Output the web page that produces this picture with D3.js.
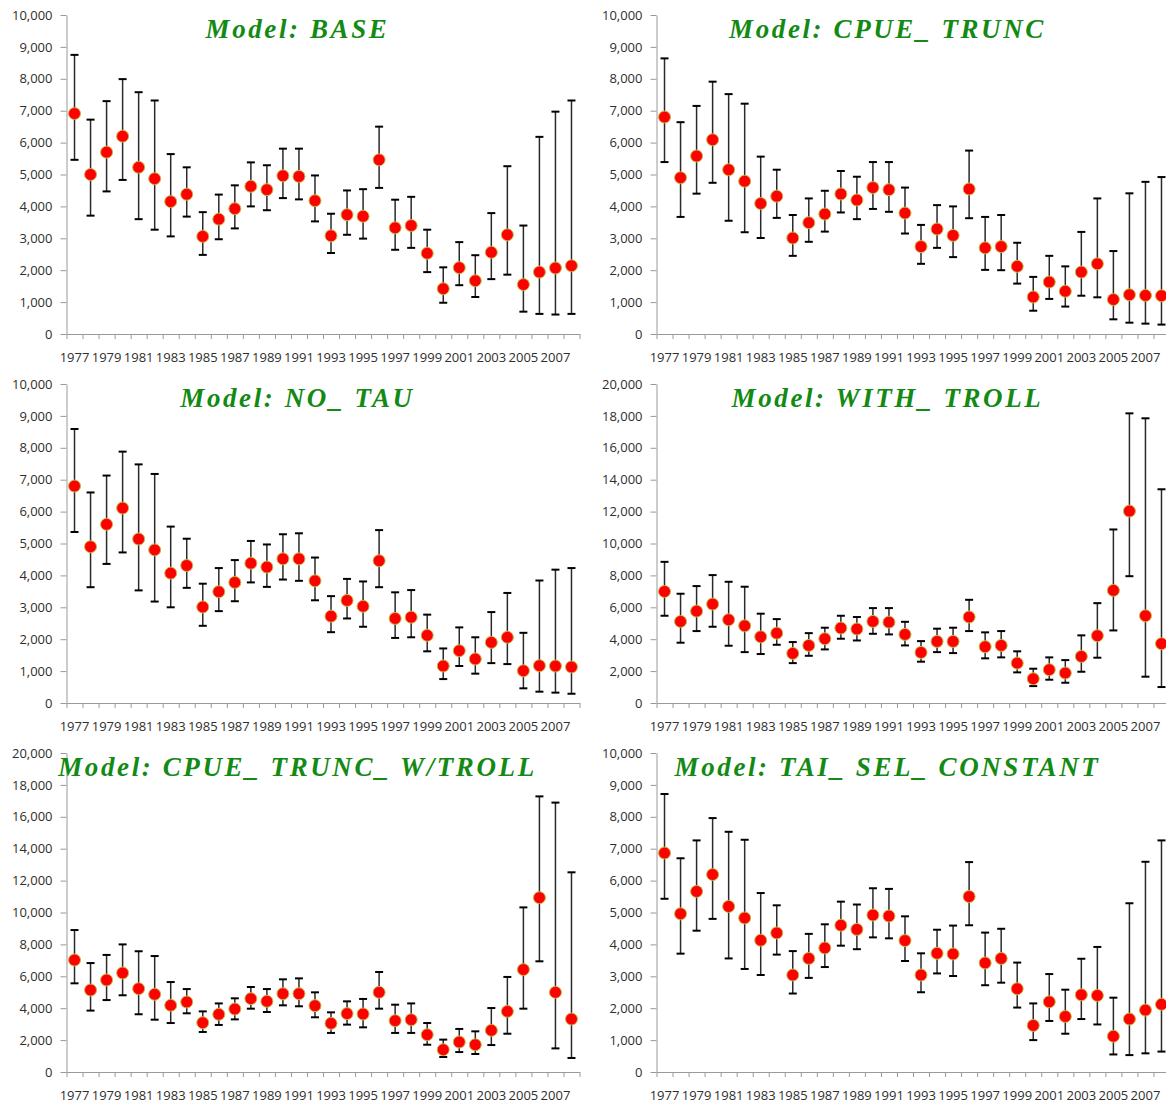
<!DOCTYPE html>
<html><head><meta charset="utf-8">
<script src="https://cdn.jsdelivr.net/npm/d3@7"></script>
<style>
html,body{margin:0;padding:0;background:#fff;}
svg{display:block;}
.tick text{font-family:"Open Sans",sans-serif;font-size:13px;fill:#2e2e2e;}
.axis path,.axis line{stroke:#9a9a9a;}
.title{font-family:"Liberation Serif",serif;font-weight:bold;font-style:italic;font-size:27px;fill:#138a13;letter-spacing:2.6px;white-space:pre;}
</style></head><body>
<svg id="chart" width="1166" height="1106"></svg>
<script>
const years = [1977,1978,1979,1980,1981,1982,1983,1984,1985,1986,1987,1988,1989,1990,1991,1992,
  1993,1994,1995,1996,1997,1998,1999,2000,2001,2002,2003,2004,2005,2006,2007,2008];
const yearLabels = [1977,1979,1981,1983,1985,1987,1989,1991,1993,1995,1997,1999,2001,2003,2005,2007];
const yTicks10 = [0,1000,2000,3000,4000,5000,6000,7000,8000,9000,10000];
const yTicks20 = [0,2000,4000,6000,8000,10000,12000,14000,16000,18000,20000];
const titles = ["Model: BASE","Model: CPUE_ TRUNC","Model: NO_ TAU","Model: WITH_ TROLL",
  "Model: CPUE_ TRUNC_ W/TROLL","Model: TAI_ SEL_ CONSTANT"];

const baseMid = [6910,5000,5700,6200,5225,4870,4150,4380,3060,3600,3930,4630,4525,4960,4940,4180,3080,3740,3690,5460,3330,3400,2530,1420,2080,1670,2560,3110,1550,1940,2070,2140];
const baseHi  = [8750,6720,7300,7990,7580,7320,5640,5225,3820,4370,4660,5380,5290,5810,5810,4970,3770,4500,4540,6500,4210,4300,3270,2090,2880,2470,3790,5260,3400,6180,6970,7320];
const baseLo  = [5460,3710,4470,4830,3600,3270,3060,3680,2480,2970,3310,4000,3880,4260,4220,3530,2540,3110,2990,4580,2640,2700,1940,980,1530,1160,1720,1860,700,630,610,630];

const cpueMid = [6800,4900,5580,6090,5150,4790,4090,4320,3010,3490,3760,4390,4200,4590,4525,3790,2740,3290,3090,4545,2700,2740,2120,1160,1630,1340,1940,2200,1080,1230,1210,1200];
const cpueHi  = [8640,6640,7150,7910,7520,7220,5560,5150,3730,4250,4490,5110,4930,5390,5390,4590,3420,4040,4000,5750,3670,3730,2860,1790,2450,2120,3200,4250,2600,4410,4770,4920];
const cpueLo  = [5390,3670,4400,4740,3550,3190,3010,3640,2450,2890,3210,3810,3600,3920,3830,3150,2200,2700,2410,3630,2010,2000,1580,730,1100,860,1200,1150,460,355,325,295];

const notauMid = [6800,4900,5600,6110,5140,4800,4070,4310,3010,3490,3780,4380,4260,4520,4520,3830,2720,3215,3030,4460,2650,2690,2120,1160,1640,1380,1900,2060,1010,1170,1160,1130];
const notauHi  = [8590,6600,7130,7880,7480,7180,5530,5150,3740,4230,4480,5080,4970,5290,5320,4560,3350,3890,3810,5420,3470,3540,2770,1710,2370,2060,2850,3450,2200,3840,4180,4230];
const notauLo  = [5360,3630,4360,4720,3530,3180,3000,3610,2420,2880,3190,3780,3640,3870,3830,3220,2220,2650,2390,3630,2040,2060,1620,750,1160,920,1250,1220,460,355,325,290];

const trollMid = [6990,5115,5760,6200,5220,4840,4150,4380,3110,3610,4030,4700,4640,5115,5070,4300,3170,3860,3860,5390,3530,3610,2500,1520,2090,1880,2920,4220,7060,12030,5470,3720];
const trollHi  = [8850,6850,7330,8020,7600,7290,5600,5260,3820,4380,4720,5470,5390,5950,5950,5090,3880,4660,4720,6470,4430,4510,3240,2150,2860,2690,4240,6260,10880,18160,17850,13400];
const trollLo  = [5470,3780,4510,4780,3590,3190,3070,3650,2500,2960,3360,4030,3920,4340,4300,3610,2590,3190,3130,4510,2800,2860,1920,1060,1460,1270,1960,2840,4550,7950,1650,1000];

const cpueTrollMid = [7020,5140,5770,6210,5225,4870,4180,4390,3090,3615,3950,4600,4430,4910,4910,4160,3050,3660,3640,4995,3220,3280,2340,1400,1880,1710,2610,3800,6420,10930,4995,3320];
const cpueTrollHi  = [8900,6830,7340,8000,7570,7270,5640,5200,3800,4300,4620,5330,5200,5810,5870,4995,3740,4430,4580,6270,4220,4300,3070,2030,2700,2550,4010,5960,10320,17280,16890,12520];
const cpueTrollLo  = [5560,3850,4510,4810,3620,3280,3070,3680,2510,2950,3300,3970,3760,4180,4120,3430,2450,2970,2800,3970,2450,2450,1710,940,1250,1130,1690,2400,3970,6940,1480,880];

const taiMid = [6865,4960,5660,6190,5190,4830,4130,4360,3040,3560,3890,4600,4470,4920,4890,4120,3040,3720,3700,5500,3420,3560,2610,1460,2200,1740,2420,2400,1120,1660,1940,2120];
const taiHi  = [8715,6700,7260,7960,7530,7280,5610,5225,3790,4330,4630,5340,5250,5760,5740,4880,3720,4460,4590,6580,4370,4490,3430,2150,3070,2580,3550,3920,2330,5290,6590,7260];
const taiLo  = [5430,3710,4430,4800,3560,3230,3040,3680,2460,2950,3290,3960,3850,4220,4190,3480,2500,3090,3010,4600,2720,2800,2020,1000,1600,1200,1660,1490,550,530,585,640];

const panels = [
  {title:titles[0], mid:baseMid, hi:baseHi, lo:baseLo, ticks:yTicks10, col:0, row:0},
  {title:titles[1], mid:cpueMid, hi:cpueHi, lo:cpueLo, ticks:yTicks10, col:1, row:0},
  {title:titles[2], mid:notauMid, hi:notauHi, lo:notauLo, ticks:yTicks10, col:0, row:1},
  {title:titles[3], mid:trollMid, hi:trollHi, lo:trollLo, ticks:yTicks20, col:1, row:1},
  {title:titles[4], mid:cpueTrollMid, hi:cpueTrollHi, lo:cpueTrollLo, ticks:yTicks20, col:0, row:2},
  {title:titles[5], mid:taiMid, hi:taiHi, lo:taiLo, ticks:yTicks10, col:1, row:2}
];

const svg = d3.select("#chart");
const colX = [66.5, 656.5];
const rowY = [15, 384, 753];
const W = 513, H = 319;

panels.forEach(p => {
  const g = svg.append("g").attr("transform", `translate(${colX[p.col]},${rowY[p.row]})`);
  const y = d3.scaleLinear().domain([0, p.ticks[p.ticks.length-1]]).range([H, 0]);
  const x = d3.scaleBand().domain(years).range([0, W]);
  const edge = d3.scaleLinear().domain([0, years.length]).range([0, W]);

  g.append("g").attr("class","axis")
    .call(d3.axisLeft(y).tickValues(p.ticks).tickFormat(d3.format(",")).tickSize(6).tickPadding(8).tickSizeOuter(0));

  g.append("g").attr("class","axis").attr("transform",`translate(0,${H})`)
    .call(d3.axisBottom(edge).tickValues(d3.range(years.length+1)).tickFormat("").tickSize(5).tickSizeOuter(0));

  const xl = g.append("g").attr("class","axis").attr("transform",`translate(0,${H})`)
    .call(d3.axisBottom(x).tickValues(yearLabels).tickSize(0).tickPadding(19));
  xl.select(".domain").remove();

  const data = years.map((yr,i) => ({yr, m:p.mid[i], hi:p.hi[i], lo:p.lo[i]}));
  const cx = d => x(d.yr) + x.bandwidth()/2;

  const bars = g.append("g");
  bars.selectAll("line.v").data(data).join("line").attr("class","v")
    .attr("x1",cx).attr("x2",cx).attr("y1",d=>y(d.hi)).attr("y2",d=>y(d.lo))
    .attr("stroke","#2a2a2a").attr("stroke-width",1.5);
  ["hi","lo"].forEach(k => {
    bars.selectAll("line."+k).data(data).join("line").attr("class",k)
      .attr("x1",d=>cx(d)-4).attr("x2",d=>cx(d)+4).attr("y1",d=>y(d[k])).attr("y2",d=>y(d[k]))
      .attr("stroke","#000").attr("stroke-width",2);
  });
  g.append("g").selectAll("circle").data(data).join("circle")
    .attr("cx",cx).attr("cy",d=>y(d.m)).attr("r",6)
    .attr("fill","#ff0000").attr("stroke","#c8b64a").attr("stroke-width",1);

  g.append("text").attr("class","title").attr("x",231).attr("y",23)
    .attr("text-anchor","middle").text(p.title);
});
</script>
</body></html>
